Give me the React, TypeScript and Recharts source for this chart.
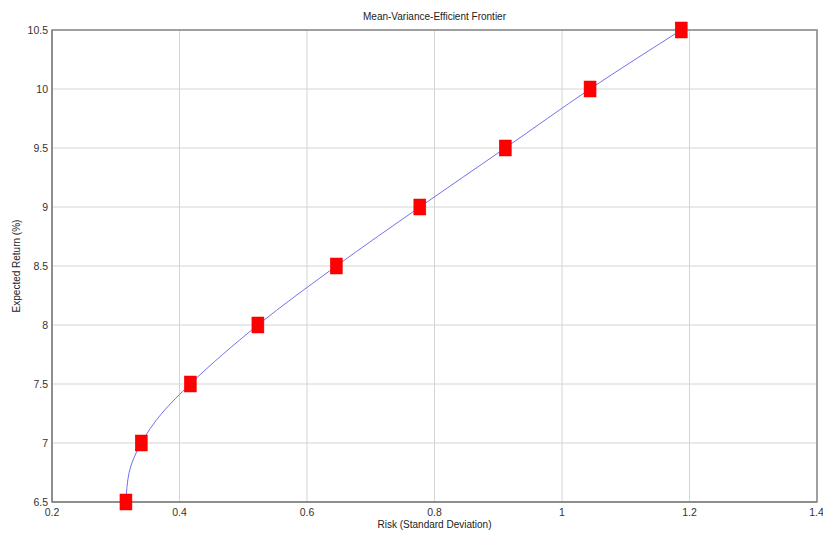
import { ComposedChart, Line, Scatter, XAxis, YAxis, CartesianGrid, ReferenceArea } from 'recharts';

// portfolio markers (risk vs expected return)
const markerReturns = [6.5, 7, 7.5, 8, 8.5, 9, 9.5, 10, 10.5];
const markerRisks = [0.316, 0.34, 0.417, 0.523, 0.646, 0.777, 0.911, 1.044, 1.187];

// frontier curve points
const frontierReturns = [6.5, 6.75, 7, 7.25, 7.5, 8, 8.5, 9, 9.5, 10, 10.5];
const frontierRisks = [0.316, 0.321, 0.34, 0.372, 0.417, 0.523, 0.646, 0.777, 0.911, 1.044, 1.187];

const xTicks = [0.2, 0.4, 0.6, 0.8, 1, 1.2, 1.4];
const yTicks = [6.5, 7, 7.5, 8, 8.5, 9, 9.5, 10, 10.5];

const markers = markerRisks.map((risk, i) => ({ risk, ret: markerReturns[i] }));
const frontier = frontierRisks.map((risk, i) => ({ risk, ret: frontierReturns[i] }));

const FONT = '"Liberation Sans", Arial, sans-serif';

const SquareMarker = (props: any) => {
  const { cx, cy } = props;
  return <rect x={cx - 6} y={cy - 8} width={12} height={16} fill="#ff0000" stroke="#e60000" strokeWidth={0.5} />;
};

const App = () => {
  const tickStyle = { fontSize: 10.5, fill: '#333', fontFamily: FONT };
  return (
    <div style={{ position: 'absolute', left: 0, top: 0, width: 823, height: 533, background: '#fff', fontFamily: FONT }}>
      <ComposedChart
        width={823}
        height={533}
        margin={{ top: 30, right: 6, bottom: 0, left: 0 }}
      >
        <CartesianGrid stroke="#d4d4d4" strokeWidth={1} />
        <XAxis
          type="number"
          dataKey="risk"
          domain={[0.2, 1.4]}
          ticks={xTicks}
          height={31}
          tickLine={false}
          tickSize={0}
          tickMargin={7}
          axisLine={{ stroke: '#888', strokeWidth: 1.5 }}
          tick={tickStyle}
        />
        <YAxis
          type="number"
          dataKey="ret"
          domain={[6.5, 10.5]}
          ticks={yTicks}
          width={52}
          tickLine={false}
          tickSize={0}
          tickMargin={4}
          axisLine={{ stroke: '#888', strokeWidth: 1.5 }}
          tick={tickStyle}
        />
        <ReferenceArea x1={0.2} x2={1.4} y1={6.5} y2={10.5} fill="none" fillOpacity={0} stroke="#888" strokeWidth={1.5} />
        <Scatter data={markers} dataKey="ret" shape={<SquareMarker />} isAnimationActive={false} />
        <Line
          data={frontier}
          dataKey="ret"
          type="monotoneY"
          stroke="#7272ee"
          strokeWidth={1}
          dot={false}
          activeDot={false}
          isAnimationActive={false}
        />
      </ComposedChart>
      <div style={{ position: 'absolute', left: 52, width: 765, top: 11, lineHeight: '12px', textAlign: 'center', fontSize: 10, color: '#222' }}>
        Mean-Variance-Efficient Frontier
      </div>
      <div style={{ position: 'absolute', left: 52, width: 765, top: 519, lineHeight: '12px', textAlign: 'center', fontSize: 10, color: '#222' }}>
        Risk (Standard Deviation)
      </div>
      <div
        style={{
          position: 'absolute',
          left: 17,
          top: 266,
          lineHeight: '12px',
          transform: 'translate(-50%, -50%) rotate(-90deg)',
          whiteSpace: 'nowrap',
          fontSize: 10,
          color: '#222',
        }}
      >
        Expected Return (%)
      </div>
    </div>
  );
};

export default App;
